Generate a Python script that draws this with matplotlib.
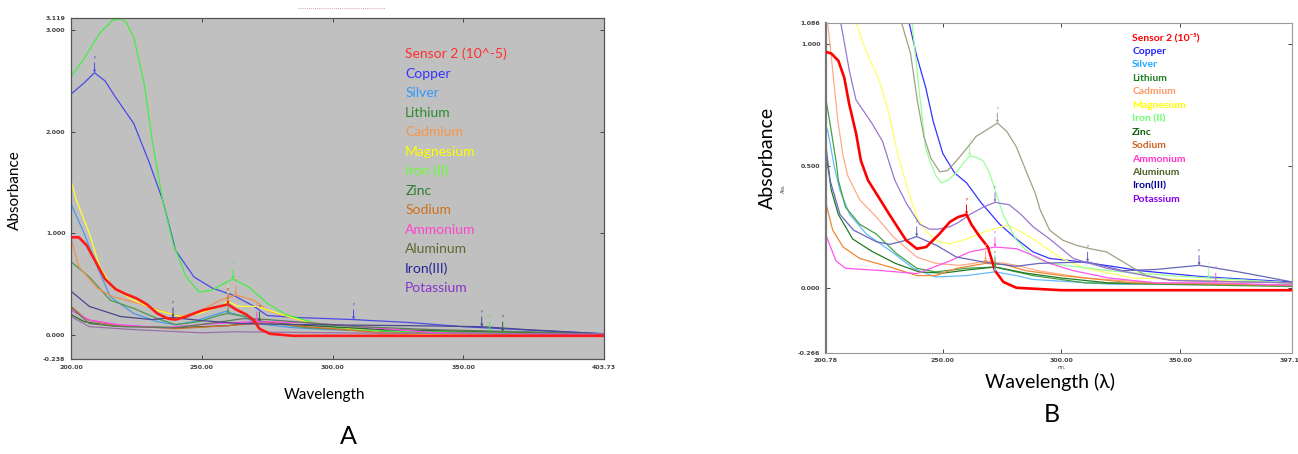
import matplotlib
matplotlib.use("Agg")
import matplotlib.pyplot as plt
from matplotlib.lines import Line2D

plt.rcParams["font.family"] = ["Lato", "DejaVu Sans"]

# nombres de las soluciones (mismo orden en los dos paneles)
claves = ["sensor", "copper", "silver", "lithium", "cadmium", "magnesium", "iron2",
          "zinc", "sodium", "ammonium", "aluminum", "iron3", "potassium"]
etiquetas_a = ["Sensor 2 (10^-5)", "Copper", "Silver", "Lithium", "Cadmium", "Magnesium",
               "Iron (II)", "Zinc", "Sodium", "Ammonium", "Aluminum", "Iron(III)", "Potassium"]
etiquetas_b = ["Sensor 2 (10⁻⁵)", "Copper", "Silver", "Lithium", "Cadmium", "Magnesium",
               "Iron (II)", "Zinc", "Sodium", "Ammonium", "Aluminum", "Iron(III)", "Potassium"]

# ---- panel A: espectros (nm, absorbancia)
a_sensor = [(200, 0.96), (203, 0.96), (206, 0.88), (209, 0.74), (213, 0.55), (217, 0.45),
            (221, 0.40), (225, 0.36), (229, 0.30), (233, 0.21), (237, 0.16), (240, 0.15),
            (244, 0.18), (250, 0.24), (255, 0.27), (260, 0.30), (263, 0.25), (267, 0.20),
            (270, 0.14), (272, 0.06), (276, 0.01), (285, -0.01), (403.73, -0.01)]
a_copper = [(200, 2.37), (205, 2.48), (209, 2.58), (213, 2.50), (217, 2.34), (224, 2.08),
            (230, 1.69), (235, 1.33), (240, 0.83), (247, 0.57), (254, 0.46), (262, 0.39),
            (270, 0.28), (275, 0.19), (287, 0.17), (308, 0.15), (330, 0.12), (350, 0.08),
            (380, 0.04), (403.73, 0.01)]
a_silver = [(200, 1.29), (205, 1.0), (210, 0.67), (215, 0.375), (224, 0.21), (233, 0.13),
            (240, 0.10), (247, 0.13), (254, 0.19), (259, 0.23), (266, 0.18), (271, 0.11),
            (285, 0.07), (300, 0.05), (350, 0.02), (403.73, 0.01)]
a_lithium = [(200, 0.72), (207, 0.57), (215, 0.34), (224, 0.26), (233, 0.16), (240, 0.10),
             (249, 0.13), (257, 0.195), (260, 0.21), (267, 0.18), (275, 0.12), (290, 0.07),
             (320, 0.03), (403.73, 0.01)]
a_cadmium = [(200, 0.95), (203, 0.67), (210, 0.46), (216, 0.375), (226, 0.31), (235, 0.23),
             (242, 0.18), (249, 0.23), (257, 0.34), (263, 0.39), (270, 0.34), (275, 0.24),
             (279, 0.21), (287, 0.15), (300, 0.08), (320, 0.0), (403.73, 0.0)]
a_magnesium = [(200, 1.52), (202, 1.33), (207, 1.0), (211, 0.67), (216, 0.46), (224, 0.34),
               (233, 0.24), (242, 0.18), (249, 0.21), (257, 0.28), (260, 0.33), (264, 0.28),
               (271, 0.28), (277, 0.23), (287, 0.15), (300, 0.08), (320, 0.02), (340, 0.0),
               (403.73, 0.0)]
a_iron2 = [(200, 2.54), (205, 2.72), (211, 2.97), (216, 3.10), (219, 3.11), (221, 3.08),
           (224, 2.93), (228, 2.47), (231, 1.92), (235, 1.33), (239, 0.90), (244, 0.57),
           (249, 0.42), (254, 0.44), (258, 0.50), (262, 0.55), (268, 0.47), (275, 0.31),
           (282, 0.20), (294, 0.11), (306, 0.05), (330, 0.03), (360, 0.03), (380, 0.02),
           (403.73, 0.01)]
a_zinc = [(200, 0.20), (205, 0.13), (215, 0.09), (240, 0.07), (260, 0.09), (272, 0.13),
          (285, 0.10), (320, 0.05), (365, 0.03), (403.73, 0.01)]
a_sodium = [(200, 0.28), (206, 0.15), (215, 0.10), (240, 0.06), (260, 0.09), (275, 0.12),
            (290, 0.08), (320, 0.02), (403.73, 0.0)]
a_ammonium = [(200, 0.24), (207, 0.146), (218, 0.10), (235, 0.07), (255, 0.11), (262, 0.12),
              (271, 0.13), (290, 0.12), (310, 0.08), (340, 0.02), (403.73, 0.0)]
a_aluminum = [(200, 0.27), (207, 0.11), (220, 0.08), (240, 0.07), (255, 0.12), (266, 0.16),
              (275, 0.15), (290, 0.12), (310, 0.08), (340, 0.05), (403.73, 0.01)]
a_iron3 = [(200, 0.43), (207, 0.28), (219, 0.18), (231, 0.15), (239, 0.17), (250, 0.14),
           (265, 0.11), (290, 0.10), (330, 0.09), (357, 0.08), (375, 0.05), (403.73, 0.01)]
a_potassium = [(200, 0.18), (207, 0.08), (225, 0.05), (250, 0.02), (262, 0.03), (300, 0.02),
               (350, 0.01), (403.73, 0.01)]

# ---- panel B
b_sensor = [(200.78, 0.966), (203, 0.96), (206, 0.93), (208.5, 0.86), (210.5, 0.755),
            (213.5, 0.63), (215.5, 0.52), (218.5, 0.44), (222, 0.386), (227.5, 0.30),
            (234.5, 0.195), (239, 0.16), (243, 0.167), (248.5, 0.22), (253, 0.27),
            (256.5, 0.29), (260, 0.30), (262, 0.26), (265.5, 0.21), (269, 0.167), (272, 0.07),
            (275.5, 0.024), (281, 0.0), (300, -0.01), (397.13, -0.01)]
b_copper = [(235.8, 1.086), (239, 0.95), (242.8, 0.82), (246, 0.68), (250, 0.55), (255, 0.47),
            (260, 0.43), (266, 0.35), (274, 0.26), (281, 0.2), (288, 0.147), (295, 0.12),
            (305, 0.11), (320, 0.09), (333, 0.07), (360, 0.045), (397.13, 0.024)]
b_silver = [(200.78, 0.66), (201.5, 0.645), (204.3, 0.495), (206.6, 0.40), (210.8, 0.30),
            (217.8, 0.22), (227.6, 0.154), (237.5, 0.08), (247, 0.044), (260, 0.05),
            (272, 0.065), (281, 0.05), (288, 0.034), (320, 0.015), (397.13, 0.01)]
b_lithium = [(200.78, 0.77), (202.2, 0.69), (205, 0.52), (206, 0.44), (209, 0.33), (215, 0.26),
             (222, 0.22), (230.5, 0.14), (239, 0.08), (247, 0.065), (260, 0.08), (272, 0.085),
             (281, 0.065), (288, 0.05), (310, 0.02), (397.13, 0.005)]
b_cadmium = [(201.5, 1.086), (203.6, 0.89), (205.7, 0.69), (207.8, 0.55), (209.9, 0.46),
             (215, 0.36), (222, 0.29), (229, 0.21), (239, 0.126), (247, 0.10), (257, 0.092),
             (263, 0.10), (268, 0.11), (276, 0.10), (281, 0.092), (290, 0.07), (310, 0.04),
             (340, 0.02), (397.13, 0.01)]
b_magnesium = [(213.4, 1.086), (217.6, 0.97), (223.2, 0.85), (227.4, 0.71), (230.9, 0.55),
               (233, 0.48), (236, 0.38), (239, 0.29), (243, 0.23), (248, 0.19), (253, 0.18),
               (260, 0.20), (265, 0.22), (269.7, 0.236), (277.4, 0.256), (283, 0.23),
               (288, 0.2), (295, 0.154), (300, 0.12), (310, 0.08), (330, 0.04), (397.13, 0.02)]
b_iron2 = [(237, 1.086), (239.9, 0.82), (242.7, 0.577), (244.5, 0.52), (247, 0.46),
           (249.4, 0.43), (252, 0.44), (255.7, 0.47), (258.5, 0.51), (261.3, 0.54), (264, 0.535),
           (267, 0.52), (269.7, 0.47), (272, 0.40), (275.4, 0.30), (281, 0.195), (288, 0.126),
           (295, 0.1), (320, 0.07), (345, 0.05), (362, 0.04), (380, 0.03), (397.13, 0.02)]
b_zinc = [(200.78, 0.55), (203, 0.4), (206, 0.3), (212, 0.2), (220, 0.15), (230, 0.1),
          (240, 0.065), (250, 0.06), (262, 0.075), (272, 0.085), (285, 0.06), (300, 0.04),
          (320, 0.02), (397.13, 0.01)]
b_sodium = [(200.78, 0.345), (203.6, 0.236), (208, 0.167), (215, 0.12), (227.7, 0.085),
            (239, 0.05), (247, 0.05), (256, 0.08), (268, 0.10), (276, 0.095), (285, 0.07),
            (300, 0.05), (330, 0.02), (397.13, 0.01)]
b_ammonium = [(200.78, 0.215), (205, 0.11), (209, 0.08), (224.6, 0.07), (239, 0.058),
              (253, 0.11), (261.3, 0.147), (272, 0.167), (281, 0.16), (288, 0.133), (295, 0.1),
              (305, 0.07), (320, 0.04), (340, 0.02), (365, 0.02), (397.13, 0.01)]
b_aluminum = [(232.6, 1.086), (236.4, 0.96), (239.2, 0.77), (242, 0.62), (245, 0.53),
              (248.7, 0.475), (252, 0.48), (255.7, 0.52), (260, 0.57), (264, 0.62), (269, 0.65),
              (273, 0.675), (277, 0.64), (281, 0.577), (285, 0.48), (289, 0.386), (291, 0.32),
              (295, 0.236), (300.5, 0.195), (306, 0.175), (312, 0.16), (319, 0.147), (327, 0.1),
              (335.6, 0.05), (347, 0.03), (397.13, 0.02)]
b_iron3 = [(200.78, 0.58), (202.5, 0.44), (206.7, 0.30), (212.4, 0.236), (222.1, 0.188),
           (227.7, 0.178), (234.7, 0.195), (239, 0.21), (247.3, 0.174), (255.7, 0.126),
           (266.9, 0.106), (280.9, 0.088), (290.7, 0.1), (311, 0.106), (325.7, 0.07),
           (339.7, 0.075), (358, 0.092), (374.7, 0.065), (397.13, 0.024)]
b_potassium = [(207, 1.086), (210.6, 0.89), (213.4, 0.77), (216.2, 0.73), (220.4, 0.67),
               (224.6, 0.60), (228, 0.495), (229.8, 0.44), (234.7, 0.345), (240.3, 0.26),
               (244.5, 0.24), (248, 0.24), (253, 0.25), (257, 0.27), (261.3, 0.30), (267, 0.33),
               (272, 0.35), (278, 0.34), (283, 0.30), (288, 0.25), (295, 0.2), (305, 0.12),
               (319, 0.08), (346, 0.03), (397.13, 0.02)]

datos_a = [a_sensor, a_copper, a_silver, a_lithium, a_cadmium, a_magnesium, a_iron2,
           a_zinc, a_sodium, a_ammonium, a_aluminum, a_iron3, a_potassium]
datos_b = [b_sensor, b_copper, b_silver, b_lithium, b_cadmium, b_magnesium, b_iron2,
           b_zinc, b_sodium, b_ammonium, b_aluminum, b_iron3, b_potassium]

# picos marcados por el software del espectrofotometro
picos_a = [("copper", 209), ("iron2", 262), ("cadmium", 263), ("magnesium", 260),
           ("sensor", 260), ("lithium", 260), ("iron3", 239), ("ammonium", 271),
           ("zinc", 272), ("copper", 308), ("iron3", 357), ("iron2", 360), ("zinc", 365)]
picos_b = [("iron3", 239), ("iron3", 311), ("iron3", 358), ("sensor", 260), ("aluminum", 273),
           ("iron2", 261.3), ("iron2", 362), ("potassium", 272), ("ammonium", 272),
           ("ammonium", 365), ("silver", 272), ("lithium", 272), ("sodium", 268),
           ("cadmium", 268)]

ticks_x_a = [200, 250, 300, 350, 403.73]
ticks_y_a = [-0.238, 0.0, 1.0, 2.0, 3.0, 3.119]
ticks_x_b = [200.78, 250, 300, 350, 397.13]
ticks_y_b = [-0.266, 0.0, 0.5, 1.0, 1.086]

col_linea_a = ["#ff1a1a", "#4a4ae8", "#4a9be8", "#4a994a", "#f09050", "#ffff30", "#44ee44",
               "#2a6a2a", "#d07030", "#ff44ee", "#5f7a5a", "#48488c", "#9a70aa"]
col_texto_a = ["#ff3030", "#3333ff", "#3399ff", "#2e8b2e", "#f79646", "#ffff00", "#66ff33",
               "#2e7d2e", "#d0701a", "#ff44cc", "#5a6a32", "#222299", "#8833cc"]
col_linea_b = ["#ff0000", "#3333ff", "#66bbff", "#44a044", "#ffaa88", "#ffff66", "#99ff99",
               "#227a22", "#ee8833", "#ff55ee", "#a39f85", "#6666bb", "#9977cc"]
col_texto_b = ["#ff0000", "#2222ff", "#22aaff", "#1e7f1e", "#ff9966", "#ffff00", "#66ff66",
               "#0d600d", "#cc6622", "#ff33cc", "#4f6228", "#000099", "#7f00ee"]


def panel(ax, datos, colores, picos, limx, limy, tx, ty, fmt_x, fmt_y):
    for i in list(range(1, len(datos))) + [0]:
        xs, ys = zip(*datos[i])
        ax.plot(xs, ys, color=colores[i], lw=1.9 if i == 0 else 0.9, zorder=3 if i == 0 else 2)
    for nombre, w in picos:
        i = claves.index(nombre)
        y = dict(datos[i])[w]
        ax.annotate("P", xy=(w, y), xytext=(0, 9), textcoords="offset points", ha="center",
                    va="bottom", fontsize=2.5, color=colores[i],
                    arrowprops=dict(arrowstyle="-|>", color=colores[i], lw=0.7,
                                    mutation_scale=3, shrinkA=0, shrinkB=0), zorder=4)
    ax.set_xlim(*limx)
    ax.set_ylim(*limy)
    ax.set_xticks(tx)
    ax.set_xticklabels([fmt_x(v) for v in tx])
    ax.set_yticks(ty)
    ax.set_yticklabels([fmt_y(v) for v in ty])
    ax.tick_params(direction="in", length=3, width=0.7, labelsize=4.5, labelcolor="#444444",
                   color="#444444", top=True, right=True, pad=4)
    for t in ax.get_xticklabels() + ax.get_yticklabels():
        t.set_family("DejaVu Sans")
        t.set_fontweight("bold")


fig = plt.figure(figsize=(12.98, 4.54), dpi=100)
W, H = 1298, 454

# ---- A
ax1 = fig.add_axes([71 / W, 1 - 359 / H, 533 / W, 341 / H])
ax1.set_facecolor("#c0c0c0")
panel(ax1, datos_a, col_linea_a, picos_a, (200, 403.73), (-0.238, 3.119), ticks_x_a, ticks_y_a,
      lambda v: f"{v:.2f}", lambda v: f"{v:.3f}")
for s in ax1.spines.values():
    s.set_color("#555555")
    s.set_linewidth(0.9)
for i, txt in enumerate(etiquetas_a):
    ax1.text(0.627, 0.894 - i * 0.0572, txt, transform=ax1.transAxes, color=col_texto_a[i],
             fontsize=10, va="center", ha="left")
fig.text(15 / W, 1 - 190 / H, "Absorbance", rotation=90, ha="center", va="center", fontsize=11)
fig.text(325 / W, 1 - 395 / H, "Wavelength", ha="center", va="center", fontsize=11)
fig.text(348 / W, 1 - 437 / H, "A", ha="center", va="center", fontsize=18)
fig.add_artist(Line2D([298 / W, 385 / W], [1 - 8 / H, 1 - 8 / H], transform=fig.transFigure,
                      color="#d08080", lw=0.6, linestyle=(0, (1, 1.5))))

# ---- B
ax2 = fig.add_axes([826 / W, 1 - 352.7 / H, 466 / W, 330 / H])
ax2.set_facecolor("white")
panel(ax2, datos_b, col_linea_b, picos_b, (200.78, 397.13), (-0.266, 1.086), ticks_x_b,
      ticks_y_b, lambda v: f"{v:.2f}", lambda v: f"{v:.3f}")
for s in ax2.spines.values():
    s.set_color("#999999")
    s.set_linewidth(0.8)
ax2.spines["left"].set_color("#777777")
ax2.spines["left"].set_linewidth(1.6)
ax2.annotate("nm.", xy=(300, 0), xycoords=("data", "axes fraction"), xytext=(0, -10.5),
             textcoords="offset points", ha="center", va="center", fontsize=3.5, color="#444444")
for i, txt in enumerate(etiquetas_b):
    ax2.text(0.657, 0.9535 - i * 0.0408, txt, transform=ax2.transAxes, color=col_texto_b[i],
             fontsize=7.5, fontweight="bold", va="center", ha="left")
fig.text(767 / W, 1 - 158 / H, "Absorbance", rotation=90, ha="center", va="center", fontsize=14)
fig.text(783 / W, 1 - 188 / H, "Abs.", rotation=90, ha="center", va="center", fontsize=3.5,
         color="#444444")
fig.text(1050 / W, 1 - 382 / H, "Wavelength (λ)", ha="center", va="center", fontsize=14)
fig.text(1052 / W, 1 - 415 / H, "B", ha="center", va="center", fontsize=18)

fig.savefig("out.png", dpi=100)
